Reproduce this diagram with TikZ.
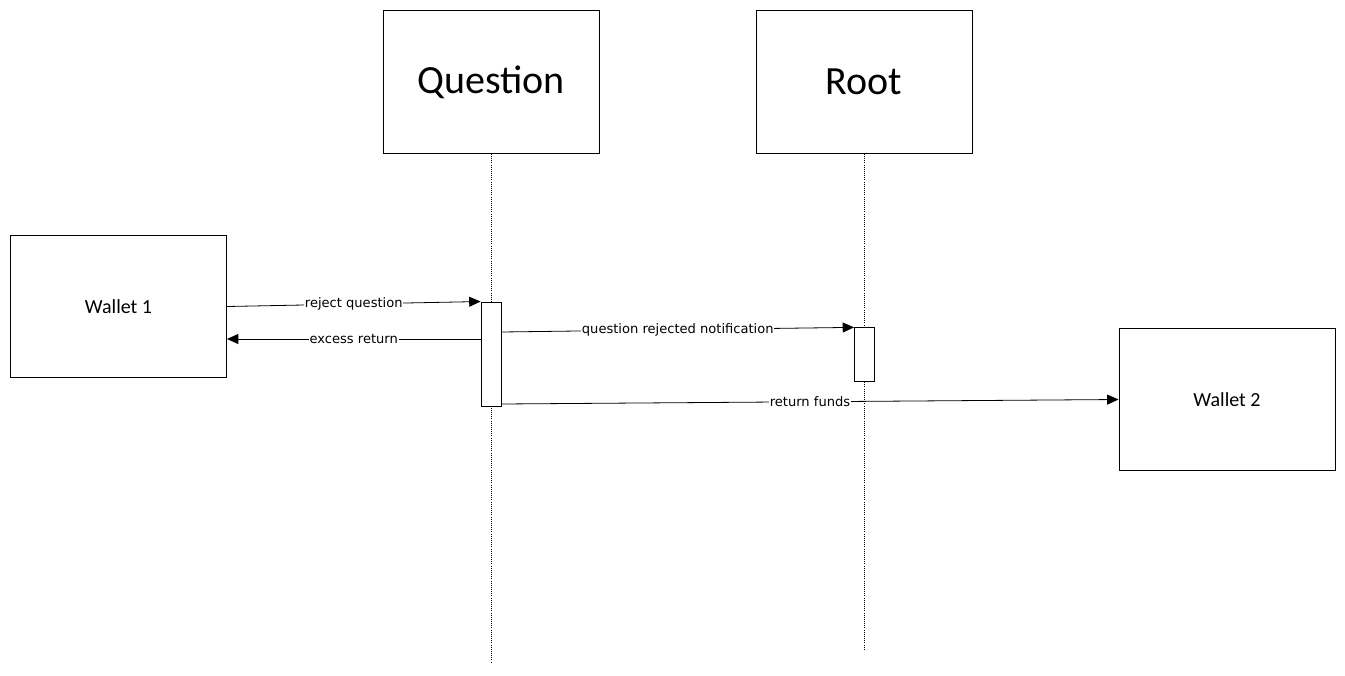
\documentclass[tikz,border=0pt]{standalone}
\usepackage{fontspec}
\setmainfont{Carlito}
\newfontfamily\labelfont{DejaVu Sans}
\usetikzlibrary{arrows.meta}

\begin{document}
\begin{tikzpicture}[x=0.75pt, y=-0.75pt,
        party/.style={draw, line width=0.75pt, minimum width=162pt, minimum height=107pt, inner sep=0pt},
        act/.style={draw, line width=0.7pt, fill=white, minimum width=15pt, inner sep=0pt},
        msg/.style={-{Triangle[length=8.5pt, width=7.5pt]}, line width=0.6pt},
        lbl/.style={fill=white, inner sep=0.5pt, font=\labelfont\fontsize{9.8}{11}\selectfont}]
        \useasboundingbox (0,0) rectangle (1345,675);
        % parties
        \node[party, font=\fontsize{30}{36}\selectfont] (question) at (491,82) {Question};
        \node[party, font=\fontsize{30}{36}\selectfont] (root) at (864,82) {Root};
        \node[party, font=\fontsize{15}{18}\selectfont] (wallet1) at (118.5,306.5) {Wallet 1};
        \node[party, font=\fontsize{15}{18}\selectfont] (wallet2) at (1227,399.5) {Wallet 2};
        % lifelines
        \draw[densely dotted, line width=0.6pt] (question.south) -- (491,662);
        \draw[densely dotted, line width=0.6pt] (root.south) -- (864,650);
        % activations
        \node[act, minimum height=78pt] (qact) at (491,354) {};
        \node[act, minimum height=40pt] (ract) at (864.5,354.5) {};
        % messages
        \draw[msg] (wallet1.east) -- node[lbl] {reject question} (qact.north west);
        \draw[msg] (qact.west |- 0,339) -- node[lbl] {excess return} (wallet1.east |- 0,339);
        \draw[msg] (qact.east |- 0,332) -- node[lbl] {question rejected notification} (ract.north west);
        \draw[msg] (qact.east |- 0,404) -- node[lbl] {return funds} (wallet2.west);
\end{tikzpicture}
\end{document}
